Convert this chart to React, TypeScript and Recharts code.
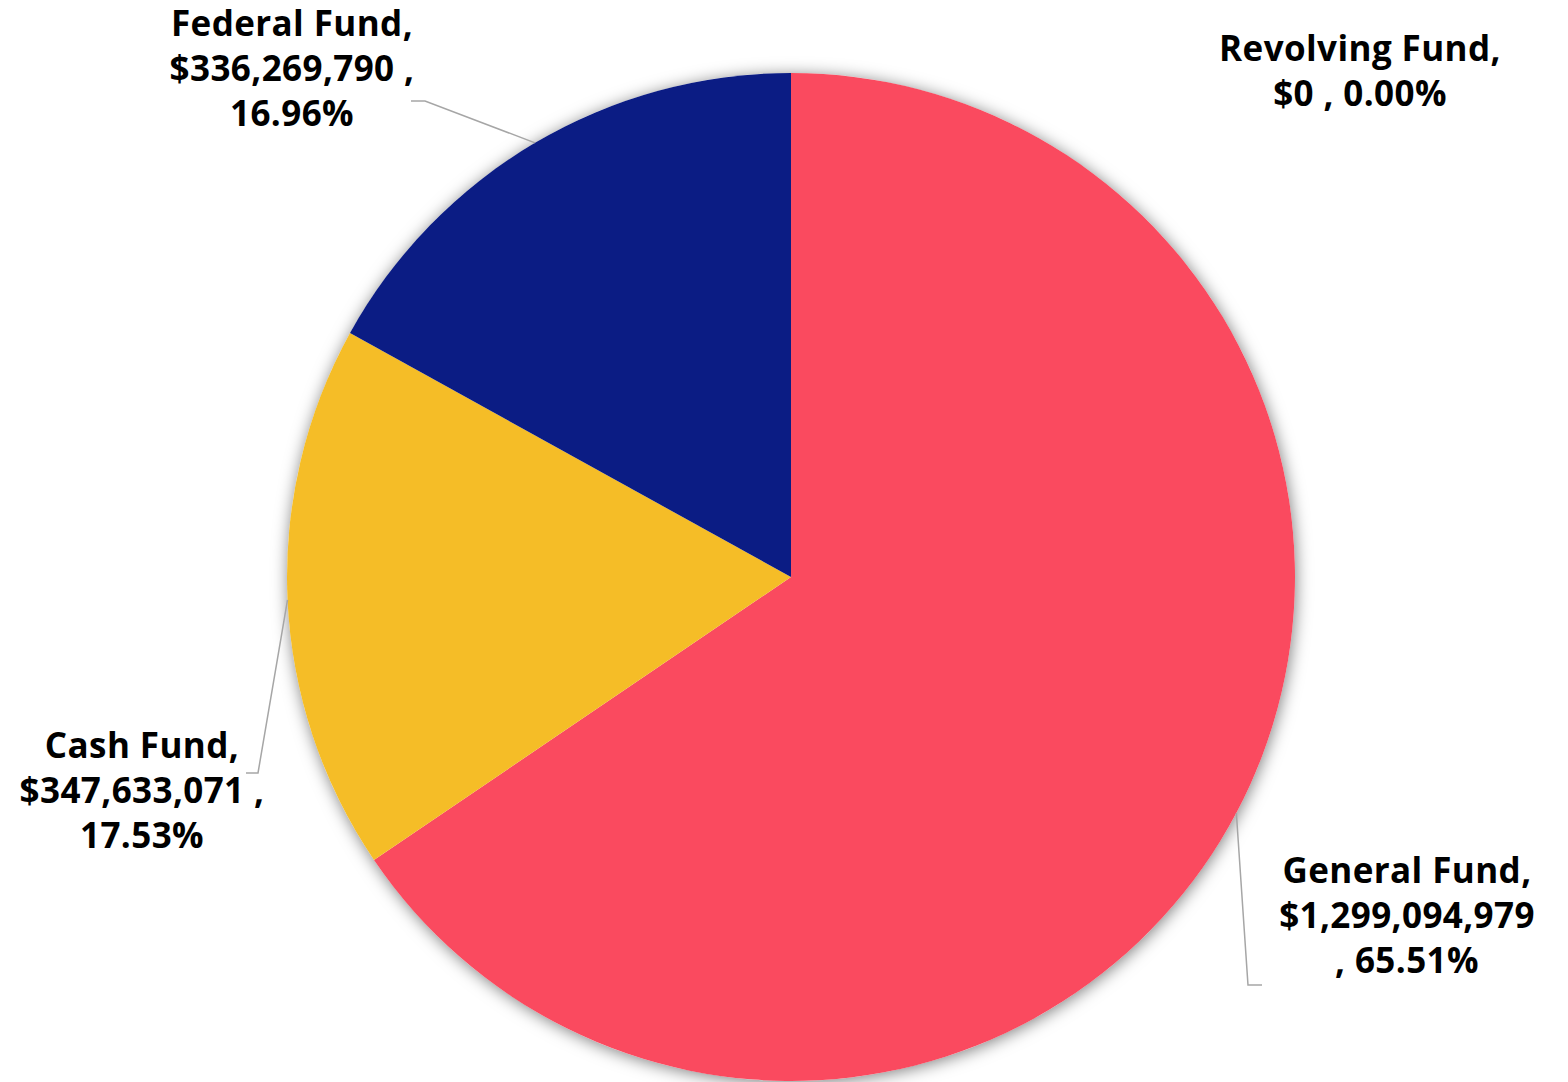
import { PieChart, Pie, Cell } from 'recharts';

const FUNDS = ['General Fund', 'Cash Fund', 'Federal Fund', 'Revolving Fund'];
const AMOUNTS = [1299094979, 347633071, 336269790, 0];
const COLORS = ['#FA4A5F', '#F5BD27', '#0B1C84', '#7F7F7F'];

const TOTAL = AMOUNTS.reduce((s, v) => s + v, 0);
const data = FUNDS.map((name, i) => ({ name, value: AMOUNTS[i] }));
const backdrop = [{ name: 'backdrop', value: 1 }];

const CX = 791;
const CY = 577;
const R = 504;
const LINE_H = 45;
const FONT = '"Open Sans", "DejaVu Sans", sans-serif';

// label placement relative to the pie centre (Excel had these dragged by hand)
type Layout = { dx: number; dy: number; wrap: 'three' | 'two' | 'commaDown'; elbow?: [number, number]; end?: [number, number] };
const LABEL_LAYOUT: Record<string, Layout> = {
  'General Fund': { dx: 616, dy: 306, wrap: 'commaDown', elbow: [457, 408], end: [471, 408] },
  'Cash Fund': { dx: -649, dy: 181, wrap: 'three', elbow: [-533, 196], end: [-545, 196] },
  'Federal Fund': { dx: -499, dy: -541, wrap: 'three', elbow: [-366, -476], end: [-380, -476] },
  'Revolving Fund': { dx: 569, dy: -516, wrap: 'two' },
};

const fmtMoney = (v: number) => '$' + v.toLocaleString('en-US');
const fmtPct = (v: number) => (TOTAL ? (v / TOTAL) * 100 : 0).toFixed(2) + '%';

function labelLines(name: string, value: number, wrap: Layout['wrap']) {
  const money = fmtMoney(value);
  const pct = fmtPct(value);
  if (wrap === 'two') return [`${name},`, `${money} , ${pct}`];
  if (wrap === 'commaDown') return [`${name},`, money, `, ${pct}`];
  return [`${name},`, `${money} ,`, pct];
}

const RAD = Math.PI / 180;

function renderLabel(props: any) {
  const { cx, cy, midAngle, outerRadius, name, value } = props;
  const lay = LABEL_LAYOUT[name];
  if (!lay) return null;
  const lines = labelLines(name, value, lay.wrap);
  const sx = cx + outerRadius * Math.cos(-midAngle * RAD);
  const sy = cy + outerRadius * Math.sin(-midAngle * RAD);
  return (
    <g key={`lbl-${name}`}>
      {lay.elbow && lay.end && (
        <polyline
          points={`${sx},${sy} ${cx + lay.elbow[0]},${cy + lay.elbow[1]} ${cx + lay.end[0]},${cy + lay.end[1]}`}
          fill="none"
          stroke="#A6A6A6"
          strokeWidth={1.5}
        />
      )}
      <text
        x={cx + lay.dx}
        y={cy + lay.dy}
        textAnchor="middle"
        fill="#000"
        style={{ fontFamily: FONT, fontWeight: 700, fontSize: 35, letterSpacing: 0.4 }}
      >
        {lines.map((t, i) => (
          <tspan key={i} x={cx + lay.dx} dy={i === 0 ? 0 : LINE_H}>{t}</tspan>
        ))}
      </text>
    </g>
  );
}

export default function App() {
  return (
    <div style={{ position: 'absolute', left: 0, top: 0, width: 1568, height: 1082, background: '#fff' }}>
      <PieChart width={1568} height={1082} margin={{ top: 0, right: 0, bottom: 0, left: 0 }}>
        <Pie
          data={backdrop}
          dataKey="value"
          cx={CX}
          cy={CY}
          outerRadius={R}
          stroke="none"
          isAnimationActive={false}
          label={false}
          labelLine={false}
        >
          <Cell fill="#ffffff" style={{ filter: 'drop-shadow(1px 2px 8px rgba(0,0,0,0.5))' }} />
        </Pie>
        <Pie
          data={data}
          dataKey="value"
          nameKey="name"
          cx={CX}
          cy={CY}
          outerRadius={R}
          startAngle={90}
          endAngle={-270}
          stroke="none"
          isAnimationActive={false}
          labelLine={false}
          label={renderLabel}
        >
          {data.map((d, i) => (
            <Cell key={d.name} fill={COLORS[i]} />
          ))}
        </Pie>
      </PieChart>
    </div>
  );
}
